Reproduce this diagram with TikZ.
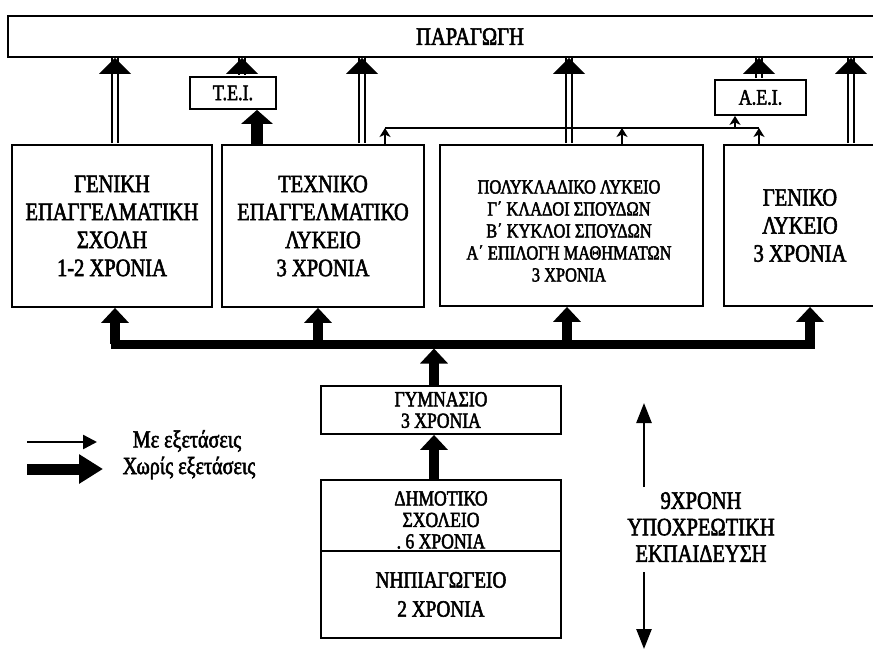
\documentclass[tikz,border=0pt]{standalone}
\usepackage{fontspec}
\setmainfont{Liberation Serif}[FakeStretch=0.82,FakeBold=2.2]
\usetikzlibrary{arrows.meta,calc}
% hollow (double-line) arrow with a solid triangular head
\newcommand\dblarrow[3]{%
  \draw[dbl] (#2 -| #1) -- (#3 -| #1);
  \fill (#3 -| #1) -- ++(-16,16) -- ++(32,0) -- cycle;}
\begin{document}
\begin{tikzpicture}[x=1pt,y=-1pt,
  box/.style={draw,line width=1.8pt,inner sep=0pt,align=center},
  dbl/.style={line width=1.7pt,double distance=4.2pt,shorten <=1pt},
  fat/.style={line width=9pt},
  fatarrow/.style={line width=10pt,-{Triangle[width=27pt,length=15pt]}},
  slim/.style={line width=1.6pt},
  slimarrow/.style={line width=1.6pt,-{Stealth[width=11pt,length=9pt,inset=2.5pt]}},
  bigtxt/.style={font=\fontsize{25}{28}\selectfont},
  midtxt/.style={font=\fontsize{20}{22}\selectfont},
  smalltxt/.style={font=\fontsize{21.5}{21.5}\selectfont}]
\useasboundingbox (0,0) rectangle (873,650);
\clip (0,0) rectangle (873,650);

% boxes
\node[box,minimum width=924,minimum height=41,font=\fontsize{25}{27}\selectfont] (top) at (470,36.5) {ΠΑΡΑΓΩΓΗ};
\node[box,minimum width=200,minimum height=162,bigtxt] (b1) at (112,226)
  {ΓΕΝΙΚΗ\\ΕΠΑΓΓΕΛΜΑΤΙΚΗ\\ΣΧΟΛΗ\\1-2 ΧΡΟΝΙΑ};
\node[box,minimum width=202,minimum height=162,bigtxt] (b2) at (323,226)
  {ΤΕΧΝΙΚΟ\\ΕΠΑΓΓΕΛΜΑΤΙΚΟ\\ΛΥΚΕΙΟ\\3 ΧΡΟΝΙΑ};
\node[box,minimum width=263,minimum height=161] (b3) at (571.5,225.5) {};
\node[midtxt,align=center] (b3t) at (569,231)
  {ΠΟΛΥΚΛΑΔΙΚΟ ΛΥΚΕΙΟ\\Γ΄ ΚΛΑΔΟΙ ΣΠΟΥΔΩΝ\\Β΄ ΚΥΚΛΟΙ ΣΠΟΥΔΩΝ\\Α΄ ΕΠΙΛΟΓΗ ΜΑΘΗΜΑΤΩΝ\\3 ΧΡΟΝΙΑ};
\node[box,minimum width=152,minimum height=161,bigtxt] (b4) at (800,225.5)
  {ΓΕΝΙΚΟ\\ΛΥΚΕΙΟ\\3 ΧΡΟΝΙΑ};
\node[box,minimum width=86,minimum height=32,font=\fontsize{22}{24}\selectfont] (tei) at (233,93) {Τ.Ε.Ι.};
\node[box,minimum width=91,minimum height=35,font=\fontsize{22}{24}\selectfont] (aei) at (760.5,97.5) {Α.Ε.Ι.};
\node[box,minimum width=240,minimum height=48,smalltxt] (gym) at (441,410) {ΓΥΜΝΑΣΙΟ\\3 ΧΡΟΝΙΑ};
\node[box,minimum width=240,minimum height=71] (dim) at (441,515.5) {};
\node[smalltxt,align=center] (dimt) at (441,520) {ΔΗΜΟΤΙΚΟ\\ΣΧΟΛΕΙΟ\\{.}\ 6 ΧΡΟΝΙΑ};
\node[box,minimum width=240,minimum height=87,font=\fontsize{23.5}{29}\selectfont] (nip) at (441,594.5) {ΝΗΠΙΑΓΩΓΕΙΟ\\2 ΧΡΟΝΙΑ};

% column positions of the connectors
\coordinate (k1) at (115,0);
\coordinate (k2) at (242,0);
\coordinate (k3) at (257,0);
\coordinate (k4) at (362,0);
\coordinate (k5) at (569,0);
\coordinate (k6) at (759,0);
\coordinate (k7) at (851,0);
\coordinate (t1) at (385,0);
\coordinate (t2) at (622,0);
\coordinate (t3) at (735,0);
\coordinate (m1) at (318,0);
\coordinate (m2) at (434,0);
\coordinate (m3) at (567,0);
\coordinate (m4) at (810,0);
\coordinate (bus) at (0,344);
\coordinate (busb) at (0,348.5);
\coordinate (tbus) at (0,128);

% hollow arrows into ΠΑΡΑΓΩΓΗ
\dblarrow{k1}{b1.north}{top.south}
\dblarrow{k2}{tei.north}{top.south}
\dblarrow{k4}{b2.north}{top.south}
\dblarrow{k5}{b3.north}{top.south}
\dblarrow{k6}{aei.north}{top.south}
\dblarrow{k7}{b4.north}{top.south}

% admission with exams
\draw[slim] (t1 |- tbus) -- (k6 |- tbus);
\draw[slimarrow] (b2.north -| t1) -- (t1 |- tbus);
\draw[slimarrow] (b3.north -| t2) -- (t2 |- tbus);
\draw[slimarrow] (b4.north -| k6) -- (k6 |- tbus);
\draw[slimarrow] (t3 |- tbus) -- (aei.south -| t3);

% admission without exams
\draw[line width=12pt,-{Triangle[width=31pt,length=14pt]}] (b2.north -| k3) -- (tei.south -| k3);
\draw[fat,line cap=rect] (k1 |- bus) -- (m4 |- bus);
\draw[fatarrow] (k1 |- bus) -- (b1.south -| k1);
\draw[fatarrow] (m1 |- bus) -- (b2.south -| m1);
\draw[fatarrow] (m3 |- bus) -- (b3.south -| m3);
\draw[fatarrow] (m4 |- bus) -- (b4.south -| m4);
\draw[fatarrow] (gym.north -| m2) -- (m2 |- busb);
\draw[fatarrow] (dim.north -| m2) -- (gym.south -| m2);

% legend
\coordinate (l1s) at (27,442);
\coordinate (l1e) at (97,442);
\coordinate (l2s) at (27,469);
\coordinate (l2e) at (103,469);
\draw[line width=2.5pt,-{Triangle[width=14pt,length=14pt]}] (l1s) -- (l1e);
\draw[line width=11pt,-{Triangle[width=28pt,length=24pt]}] (l2s) -- (l2e);
\node[font=\fontsize{24.5}{26}\selectfont] (lg1) at (187,441) {Με εξετάσεις};
\node[font=\fontsize{24.5}{26}\selectfont] (lg2) at (189,468) {Χωρίς εξετάσεις};

% compulsory education span
\node[font=\fontsize{25}{26.5}\selectfont,align=center] (comp) at (701,527) {9ΧΡΟΝΗ\\ΥΠΟΧΡΕΩΤΙΚΗ\\ΕΚΠΑΙΔΕΥΣΗ};
\coordinate (v1) at (644,487);
\coordinate (v2) at (644,403);
\coordinate (v3) at (644,572);
\coordinate (v4) at (644,649);
\draw[line width=2.5pt,-{Triangle[width=15pt,length=20pt]}] (v1) -- (v2);
\draw[line width=2.5pt,-{Triangle[width=15pt,length=20pt]}] (v3) -- (v4);
\end{tikzpicture}
\end{document}
